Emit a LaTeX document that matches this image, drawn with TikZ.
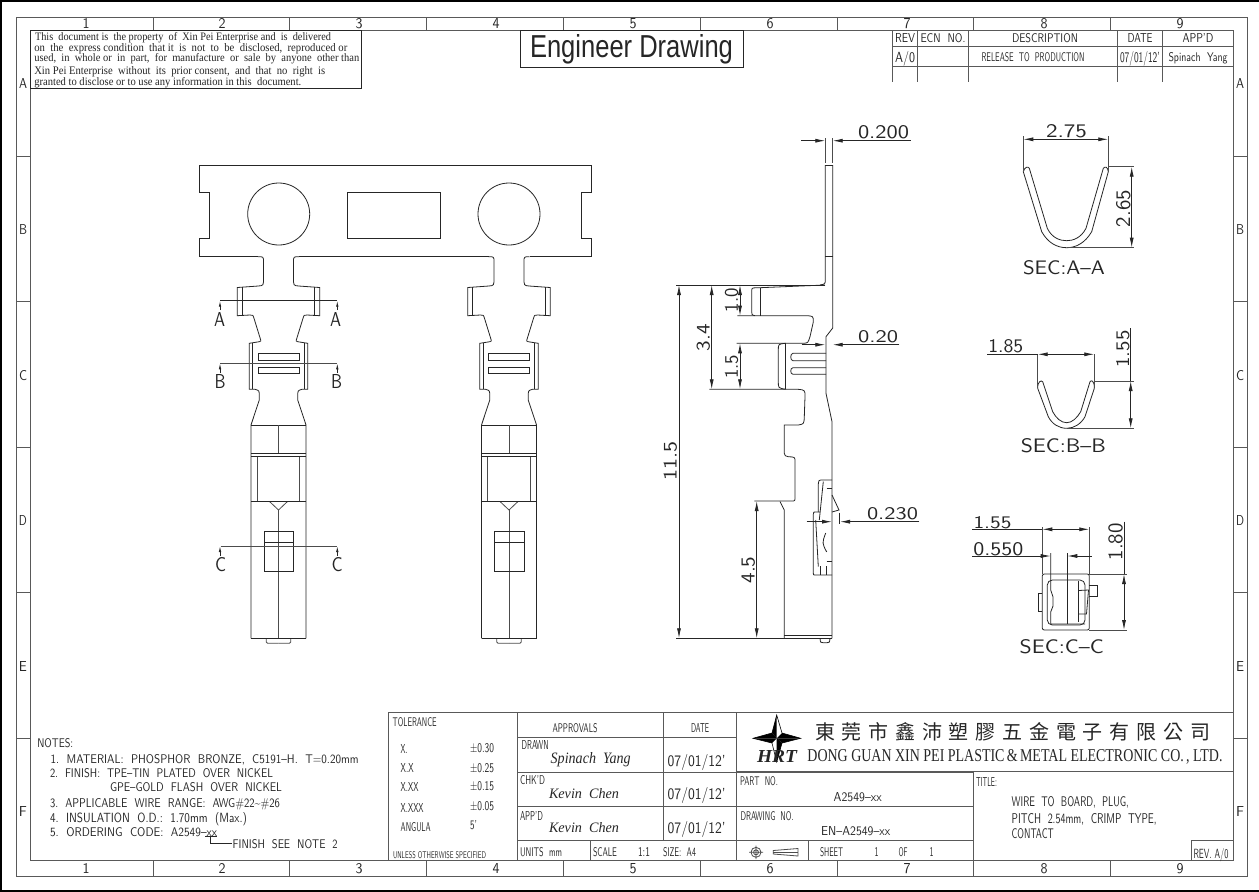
\documentclass[tikz,border=0pt]{standalone}
\usepackage{fontspec}
\usepackage{graphicx}
\usetikzlibrary{arrows.meta}
\newfontfamily\serifF{Liberation Serif}
\newfontfamily\cjk{Noto Sans CJK TC}
\newcounter{tn}
\newcommand\tx[6]{\stepcounter{tn}\node[txt,anchor=#1] (t\arabic{tn}) at ({#2},{#3+#5/2}) {\resizebox{#4pt}{#5pt}{#6}};}
\newcommand\rtx[5]{\stepcounter{tn}\node[txt,anchor=center,rotate=90] (t\arabic{tn}) at ({#1},{#2}) {\resizebox{#3pt}{#4pt}{#5}};}
\tikzset{
 txt/.style={inner sep=0pt,outer sep=0pt,text=black!85,font=\sffamily},
 ol/.style={draw=black!85,line width=0.8pt},
 thn/.style={draw=black!70,line width=0.8pt},
 tb/.style={draw=black!65,line width=1pt},
 diml/.style={draw=black!85,line width=0.8pt},
 dimb/.style={diml,{Latex[length=10pt,width=4pt]}-{Latex[length=10pt,width=4pt]}},
 dimr/.style={diml,-{Latex[length=10pt,width=4pt]}},
 secar/.style={diml,-{Latex[length=6pt,width=2.5pt]}},
}
\newcommand\halfpc{%
 \draw[ol] (-20.5,256.7) .. controls (-15,256.7) .. (-15,262) -- (-15,278) .. controls (-15,285.5) .. (-20,286) -- (-41.2,287.5) -- (-41.2,315.7) -- (-28.5,315) .. controls (-25.5,315) .. (-24.5,318.3) -- (-17.8,340) .. controls (-17.5,341) .. (-19.2,341.7) -- (-29.2,343.3) -- (-29.2,389.3) -- (-23.5,389.3) .. controls (-19.2,390.5) .. (-19.2,396.7) -- (-19.2,400) -- (-27.5,425) -- (-27.5,638.3);
 \draw[ol] (-36.2,287.2) -- (-36.2,315.4);
 \draw[ol] (-25.8,343) -- (-25.8,389.3);
 \draw[thn] (-21.2,456) -- (-21.2,501.3);
 \draw[thn] (-9.2,501.3) -- (0,510);
 \draw[thn] (-12.2,638.3) -- (-12.2,642) -- (-11,643.3) -- (0,643.3);
}
\newcommand\contactpc[1]{%
 \begin{scope}[shift={(#1,0)}]
  \halfpc
  \begin{scope}[xscale=-1]\halfpc\end{scope}
  \draw[ol] (-20.5,353.3) rectangle (20.5,360);
  \draw[ol] (-20.5,367.3) rectangle (20.5,373.7);
  \draw[ol] (-27.5,425) -- (27.5,425);
  \draw[thn] (0,425) -- (0,453.3);
  \draw[ol] (-27.5,453.3) -- (27.5,453.3);
  \draw[ol] (-27.5,456) -- (27.5,456);
  \draw[ol] (-27.5,501.3) -- (27.5,501.3);
  \draw[thn] (0,510) -- (0,638.3);
  \draw[ol] (-14.2,531.7) rectangle (15.2,571.3);
  \draw[ol] (-14.2,542.7) -- (15.2,542.7);
  \draw[ol] (-27.5,638.3) -- (27.5,638.3);
 \end{scope}}
\begin{document}
\begin{tikzpicture}[x=1pt,y=-1pt]
\useasboundingbox (0,0) rectangle (1259,892);
\fill[white] (0,0) rectangle (1259,892);
% sheet edge
\fill[black] (0,0) rectangle (1259,2);
\fill[black] (0,0) rectangle (2,892);
\fill[black] (0,890) rectangle (1259,892);
% frame
\draw[tb] (16,17.5) rectangle (1247,876);
\draw[tb] (30,30) rectangle (1233,860);
\foreach \i in {153,289.5,426.5,563,700,837,973,1110}{
 \draw[tb] (\i,17.5) -- (\i,30);
 \draw[tb] (\i,860) -- (\i,876);
}
\foreach \i in {156,301.5,447,592.5,738}{
 \draw[tb] (16,\i) -- (30,\i);
 \draw[tb] (1233,\i) -- (1247,\i);
}
\foreach \x/\l in {86/1,222/2,359/3,496/4,633/5,770/6,907/7,1044/8,1180/9}{
 \tx{base}{\x}{23.5}{7}{10}{\l}
 \tx{base}{\x}{868}{7}{10}{\l}
}
\foreach \y/\l in {83.5/A,229/B,375/C,520/D,666/E,811/F}{
 \tx{base}{23}{\y}{8}{10}{\l}
 \tx{base}{1240}{\y}{8}{10}{\l}
}
% disclaimer
\draw[ol] (30,30) rectangle (361,88);
\tx{base west}{35}{36}{296}{8}{\serifF This\ \ document is\ \ the property\ \ of\ \ Xin Pei Enterprise and\ \ is\ \ delivered}
\tx{base west}{34.3}{47.7}{313}{8}{\serifF on\ \ the\ \ express condition\ \ that it\ \ is\ \ not\ \ to\ \ be\ \ disclosed,\ \ reproduced or}
\tx{base west}{34.3}{57.7}{325}{8}{\serifF used,\ \ in\ \ whole or\ \ in\ \ part,\ \ for\ \ manufacture\ \ or\ \ sale\ \ by\ \ anyone\ \ other than}
\tx{base west}{34.3}{70}{291}{8}{\serifF Xin Pei Enterprise\ \ without\ \ its\ \ prior consent,\ \ and\ \ that\ \ no\ \ right\ \ is}
\tx{base west}{34.3}{81}{267}{8}{\serifF granted to disclose or to use any information in this\ \ document.}
% heading
\draw[ol] (520,30) rectangle (743,67);
\tx{base}{631.5}{46}{203}{23}{\fontspec{Liberation Sans}Engineer Drawing}
% revision table
\draw[tb] (892.5,30) -- (892.5,82) (917,30) -- (917,82) (968,30) -- (968,82) (1117,30) -- (1117,82) (1162.5,30) -- (1162.5,82);
\draw[tb] (892.5,46) -- (1233,46) (892.5,66.5) -- (1233,66.5);
\tx{base}{905}{38}{20}{9}{REV}
\tx{base}{943}{38}{45}{9}{ECN\ \ NO.}
\tx{base}{1045}{38}{66}{9}{DESCRIPTION}
\tx{base}{1140}{38}{25}{9}{DATE}
\tx{base}{1198}{38}{31}{9}{APP'D}
\tx{base}{905}{57}{20}{11}{A/0}
\tx{base}{1033}{57}{103}{9}{RELEASE\ \ TO\ \ PRODUCTION}
\tx{base}{1140}{57}{40}{11}{07/01/12'}
\tx{base}{1198}{57}{59}{9}{Spinach\ \ Yang}
% carrier
\draw[ol] (258,256.7) -- (199.3,256.7) -- (199.3,238.7) -- (209.3,238.7) -- (209.3,192.7) -- (199.3,192.7) -- (199.3,165) -- (591,165) -- (591,192.7) -- (581,192.7) -- (581,238.7) -- (591,238.7) -- (591,256.7) -- (529.5,256.7);
\draw[ol] (299,256.7) -- (488.5,256.7);
\draw[ol] (278.7,214) circle (31);
\draw[ol] (509,214) circle (31);
\draw[ol] (347.7,192.7) rectangle (440,238);
\contactpc{278.5}
\contactpc{509}
% section marks
\draw[diml,line width=1pt] (220,300.7) -- (337.3,300.7);
\draw[thn] (220,363.3) -- (337.3,363.3);
\draw[thn] (220.7,546) -- (337.3,546);
\foreach \x in {220,337.3}{
 \draw[secar] (\x,310) -- (\x,300.7);
 \draw[secar] (\x,373) -- (\x,363.3);
 \draw[secar] (\x,556) -- (\x,546);
}
\tx{base}{219.7}{319}{11}{14}{A}
\tx{base}{335.7}{319}{11}{14}{A}
\tx{base}{220}{381.7}{11}{14}{B}
\tx{base}{336.5}{381.7}{11}{14}{B}
\tx{base}{220.7}{564}{11}{14}{C}
\tx{base}{337}{564}{11}{14}{C}
% side view outline
\draw[ol] (825.3,165) -- (832.7,165);
\draw[ol] (825.3,256.7) -- (832.7,256.7);
\draw[ol] (825.3,165) -- (825.3,279) .. controls (825.3,284) .. (820,285);
\draw[ol] (832.7,165) -- (832.7,328) -- (826,336.7) -- (826,393.3) -- (832,421.7) -- (832,638.3);
\draw[ol] (760,287.7) -- (825,285);
\draw[ol] (760,287.7) -- (756,287.7) .. controls (751.7,288) .. (751.7,292) -- (751.7,309) .. controls (751.7,315) .. (755,315.7);
\draw[ol] (760,287.7) -- (760,315.7);
\draw[ol] (737.3,315.7) -- (806,315.7) .. controls (813.3,316) .. (813.3,322) -- (810,336.7) .. controls (808,343) .. (803.3,343.3) -- (736.7,343.3);
\draw[ol] (785.7,343.3) -- (785.7,389.3);
\draw[ol] (785.7,343.3) .. controls (778.3,344) .. (778.3,350) -- (778.3,382) .. controls (778.3,388) .. (785.7,389.3);
\draw[ol] (709.3,389.3) -- (798,389.3) .. controls (805,390) .. (805,396.7) -- (804.3,416.7) .. controls (804,424) .. (798.3,425) -- (784.3,425) -- (784.3,453.3) .. controls (785,456) .. (788.3,456.7) .. controls (795,457) .. (795,462) -- (795,496.7) .. controls (795,501) .. (791.7,501) -- (754.3,501);
\draw[ol] (780,501.5) -- (784.3,510) -- (784.3,638.3);
\draw[ol] (784.3,635) -- (832,635);
\draw[dimr,-] (676,285) -- (825,285);
\draw[dimr,-] (676,638.3) -- (832,638.3);
\draw[ol] (820,638.3) .. controls (820.5,642.7) .. (823,642.7) -- (827,642.7) .. controls (829.5,642.7) .. (830,638.3);
\draw[ol] (826,353.3) -- (793,353.3) .. controls (790,353.3) and (790,360.7) .. (793,360.7) -- (826,360.7);
\draw[ol] (826,367.7) -- (793,367.7) .. controls (790,367.7) and (790,374.3) .. (793,374.3) -- (826,374.3);
% clip detail
\draw[ol] (832,480) -- (821,480) .. controls (819,480) .. (818.3,484) -- (818.3,512);
\draw[ol] (823.3,481.5) -- (819.3,520);
\draw[ol] (813.5,514) .. controls (813.5,512) .. (815,512) -- (820,512);
\draw[ol] (813.3,514) -- (813.3,573) .. controls (813.3,575) .. (815,575) -- (832,575);
\draw[ol] (815.7,520) -- (818.3,566.7);
\draw[ol] (820,566) -- (820,575) (826,566) -- (826,575);
\draw[ol] (825.7,533) .. controls (822,543) .. (826.7,552);
\draw[ol] (826.7,488) -- (832,488) (826.7,561) -- (832,561);
\draw[ol] (832,495) -- (839,510) -- (832,512);
\draw[ol] (839,512.7) -- (839,524);
% side dims
\draw[thn] (825.3,138) -- (825.3,163) (832.7,138) -- (832.7,163);
\draw[dimr] (801,140.7) -- (825.3,140.7);
\draw[dimr] (910.7,140.7) -- (832.7,140.7);
\tx{base}{883.5}{131.7}{51}{13}{0.200}
\draw[dimr] (801.7,344.7) -- (825.3,344.7);
\draw[dimr] (899.3,344.7) -- (832.7,344.7);
\tx{base}{878}{336.7}{40}{12}{0.20}
\draw[dimb] (679,285) -- (679,638.3);
\rtx{670.3}{461}{39}{13}{11.5}
\draw[dimb] (711.7,285) -- (711.7,389.3);
\rtx{703.3}{337.7}{27}{13}{3.4}
\draw[dimb] (740,285) -- (740,315.7);
\rtx{731.7}{300}{24}{13}{1.0}
\draw[dimb] (740,343.3) -- (740,389.3);
\rtx{731.7}{366.7}{24}{13}{1.5}
\draw[dimb] (756.7,501) -- (756.7,638.3);
\rtx{748.3}{570}{27}{13}{4.5}
\draw[dimr] (806.7,521.7) -- (832,521.7);
\draw[dimr] (919.3,521.7) -- (840,521.7);
\tx{base}{892.5}{513}{51}{12}{0.230}
% SEC A-A
\draw[ol] (1023.3,171.7) .. controls (1024.5,167) and (1028,166) .. (1029.3,168.3) -- (1047.3,228.3) .. controls (1052,238) and (1060,240.7) .. (1066.7,240.7) .. controls (1073,240.7) and (1081,238) .. (1086,228.3) -- (1103.3,168.3) .. controls (1105,166) and (1108,167) .. (1108.3,171.7) -- (1091.7,231.7) .. controls (1085,243) and (1076,247.7) .. (1066.7,247.7) .. controls (1057,247.7) and (1048,243) .. (1041.7,231.7) -- cycle;
\draw[thn] (1023.3,136) -- (1023.3,171.7) (1108.3,136) -- (1108.3,171.7);
\draw[dimb] (1023.3,139.3) -- (1108.3,139.3);
\tx{base}{1066.5}{130.7}{41}{13}{2.75}
\draw[thn] (1108,166.7) -- (1134,166.7) (1066.7,247.7) -- (1134,247.7);
\draw[dimb] (1131.7,166.7) -- (1131.7,247.7);
\rtx{1123.3}{208.5}{37}{14}{2.65}
\tx{base}{1064}{267.7}{82}{14}{SEC:A--A}
% SEC B-B
\draw[ol] (1037.7,388.3) .. controls (1037.5,381) and (1041.5,380) .. (1042.7,381.7) -- (1052.7,411.7) .. controls (1056,418) and (1061,422.7) .. (1066.7,422.7) .. controls (1072,422.7) and (1077,418) .. (1080.7,411.7) -- (1090,381.7) .. controls (1091,380) and (1094.5,380) .. (1094.3,388.3) -- (1085,416.7) .. controls (1081,424) and (1074,428.3) .. (1066.7,428.3) .. controls (1059,428.3) and (1052,424) .. (1048.3,416.7) -- cycle;
\draw[thn] (1037.7,354.3) -- (1037.7,388.3) (1094.3,354.3) -- (1094.3,388.3);
\draw[dimr,-] (987.3,354.3) -- (1037.7,354.3);
\draw[dimb] (1037.7,354.3) -- (1094.3,354.3);
\tx{base}{1005.8}{346.3}{35}{13}{1.85}
\draw[thn] (1094,381) -- (1134,381) (1066.7,428.3) -- (1134,428.3);
\draw[dimb] (1130.7,381) -- (1130.7,428.3);
\draw[dimr,-] (1130.7,328.3) -- (1130.7,381);
\rtx{1122.7}{349}{37}{13}{1.55}
\tx{base}{1063.3}{445}{85}{14}{SEC:B--B}
% SEC C-C
\draw[ol,rounded corners=2pt] (1042.3,574) rectangle (1089.3,630);
\draw[ol,rounded corners=5pt] (1047.3,580) rectangle (1085,625);
\draw[ol] (1042.3,593.3) -- (1038.3,593.3) -- (1038.3,611) -- (1042.3,611);
\draw[ol] (1089.3,585) -- (1097.3,585) -- (1097.3,596) -- (1089.3,596);
\draw[ol] (1050.7,553) -- (1050.7,590) -- (1053,597) -- (1053,606) -- (1050.7,612) -- (1050.7,624) -- (1085,624);
\draw[ol] (1067.3,553) -- (1067.3,624);
\draw[ol] (1078.3,581) -- (1078.3,622);
\draw[ol] (1078.3,590.5) -- (1088.5,590) -- (1086.5,614) -- (1078.3,614);
\draw[thn] (1042.3,527) -- (1042.3,574) (1089.3,527) -- (1089.3,574);
\draw[dimr,-] (972.3,529.3) -- (1042.3,529.3);
\draw[dimb] (1042.3,529.3) -- (1089.3,529.3);
\tx{base}{992.5}{522}{38}{12}{1.55}
\draw[dimr] (972.3,556) -- (1050.7,556);
\draw[dimr] (1091.7,556) -- (1067.3,556);
\tx{base}{998.3}{548.5}{50}{13}{0.550}
\draw[thn] (1089,574) -- (1126.7,574) (1089,630) -- (1126.7,630);
\draw[dimb] (1124,574) -- (1124,630);
\draw[dimr,-] (1124,521.7) -- (1124,574);
\rtx{1115.7}{541.7}{37}{14}{1.80}
\tx{base}{1061.7}{646}{84}{14}{SEC:C--C}
% notes
\tx{base west}{37.3}{743.3}{36}{9}{NOTES:}
\tx{base west}{50.7}{759}{308}{9}{1.\ \ MATERIAL:\ \ PHOSPHOR\ \ BRONZE,\ \ C5191--H.\ \ T=0.20mm}
\tx{base west}{50}{773.3}{223}{9}{2.\ \ FINISH:\ \ TPE--TIN\ \ PLATED\ \ OVER\ \ NICKEL}
\tx{base west}{110}{787.3}{172}{9}{GPE--GOLD\ \ FLASH\ \ OVER\ \ NICKEL}
\tx{base west}{50}{803.3}{230}{9}{3.\ \ APPLICABLE\ \ WIRE\ \ RANGE:\ \ AWG\#22\textasciitilde\#26}
\tx{base west}{50}{817.3}{197}{10}{4.\ \ INSULATION\ \ O.D.:\ \ 1.70mm\ \ (Max.)}
\tx{base west}{50}{831.7}{167}{9}{5.\ \ ORDERING\ \ CODE:\ \ A2549--xx}
\tx{base west}{232.7}{844.3}{105}{9}{FINISH\ \ SEE\ \ NOTE\ \ 2}
\draw[diml] (205,836) -- (216.7,836);
\draw[diml] (210.7,836) -- (210.7,843.7) -- (231.7,843.7);
% title block
\draw[tb] (388.3,712.3) -- (1233,712.3) (388.3,712.3) -- (388.3,860);
\draw[tb] (517.3,712.3) -- (517.3,860) (663.3,712.3) -- (663.3,840.7) (736,712.3) -- (736,860);
\draw[tb] (517.3,737.7) -- (736,737.7) (517.3,772.7) -- (973.3,772.7) (517.3,806.7) -- (973.3,806.7) (517.3,840.7) -- (973.3,840.7);
\draw[tb] (736,771.7) -- (1233,771.7);
\draw[tb] (590,840.7) -- (590,860) (808.3,840.7) -- (808.3,860) (973.3,771.7) -- (973.3,860);
\draw[tb] (1191.7,860) -- (1191.7,840.7) -- (1233,840.7);
\tx{base west}{392.7}{722.3}{44}{9}{TOLERANCE}
\tx{base west}{400.7}{749}{7}{9}{X.}
\tx{base west}{400.7}{768}{13}{9}{X.X}
\tx{base west}{400.7}{787}{18}{9}{X.XX}
\tx{base west}{400.7}{807.7}{23}{9}{X.XXX}
\tx{base west}{400.7}{826.7}{30}{9}{ANGULA}
\tx{base west}{470}{748}{24}{9}{±0.30}
\tx{base west}{470}{768}{24}{9}{±0.25}
\tx{base west}{470}{786}{24}{9}{±0.15}
\tx{base west}{470}{806}{24}{9}{±0.05}
\tx{base west}{470}{825}{7}{9}{5'}
\tx{base west}{393}{855}{93}{7}{UNLESS OTHERWISE SPECIFIED}
\tx{base}{575}{728.3}{45}{9}{APPROVALS}
\tx{base}{700}{728.3}{18}{9}{DATE}
\tx{base west}{521.7}{745}{27}{9}{DRAWN}
\tx{base west}{520}{780}{25}{9}{CHK'D}
\tx{base west}{520}{815.7}{23}{9}{APP'D}
\tx{base}{590.7}{758}{80}{11}{\serifF\itshape Spinach\ \ Yang}
\tx{base}{584}{793.3}{70}{10}{\serifF\itshape Kevin\ \ Chen}
\tx{base}{584}{827.7}{70}{10}{\serifF\itshape Kevin\ \ Chen}
\tx{base}{696.7}{760}{58}{12}{07/01/12'}
\tx{base}{696.7}{793}{58}{12}{07/01/12'}
\tx{base}{696.7}{827.7}{58}{12}{07/01/12'}
\tx{base west}{520}{851.7}{42}{9}{UNITS\ \ mm}
\tx{base west}{593}{851.7}{24}{9}{SCALE}
\tx{base west}{638}{851.7}{12}{9}{1:1}
\tx{base west}{663}{851.7}{33}{9}{SIZE:\ \ A4}
\draw[thn] (756,852.3) circle (5) (756,852.3) circle (2.5) (749,852.3) -- (763,852.3) (756,845.5) -- (756,859);
\draw[thn] (773.3,850.5) -- (798,848.5) -- (798,856) -- (773.3,854) -- cycle;
\draw[thn] (773.3,852.3) -- (798,852.3);
\tx{base west}{820}{852.3}{23}{9}{SHEET}
\tx{base}{876.7}{852.3}{4}{9}{1}
\tx{base}{903}{852.3}{9}{9}{OF}
\tx{base}{931.7}{852.3}{4}{9}{1}
\tx{base west}{740}{781}{38}{9}{PART\ \ NO.}
\tx{base}{857.7}{797.3}{48}{9}{A2549--xx}
\tx{base west}{740.7}{815.7}{53}{9}{DRAWING\ \ NO.}
\tx{base}{855.7}{830.7}{69}{9}{EN--A2549--xx}
\tx{base west}{976}{782}{21}{9}{TITLE:}
\tx{base west}{1011.7}{801.7}{117}{10}{WIRE\ \ TO\ \ BOARD,\ \ PLUG,}
\tx{base west}{1011.7}{818.3}{145}{10}{PITCH\ \ 2.54mm,\ \ CRIMP\ \ TYPE,}
\tx{base west}{1011.7}{833.3}{42}{10}{CONTACT}
\tx{base}{1211}{853}{35}{10}{REV.\ A/0}
% logo
\fill[black] (776.7,715) -- (772,733) -- (776.7,738.3) -- cycle;
\fill[black] (800.7,738.3) -- (782,733) -- (776.7,738.3) -- cycle;
\fill[black] (776.7,762) -- (782,743) -- (776.7,738.3) -- cycle;
\fill[black] (753,738.3) -- (772,743) -- (776.7,738.3) -- cycle;
\fill[black] (753,738.3) -- (772,733) -- (776.7,738.3) -- cycle;
\fill[black] (800.7,738.3) -- (782,743) -- (776.7,738.3) -- cycle;
\draw[black,line width=0.6pt] (776.7,715) -- (782,733) -- (800.7,738.3) -- (782,743) -- (776.7,762) -- (772,743) -- (753,738.3) -- (772,733) -- cycle;
\tx{base}{777}{756.5}{40}{12}{\serifF\bfseries\itshape HRT}
\stepcounter{tn}\node[txt,anchor=center] (t\arabic{tn}) at (1012.5,732.3) {\cjk\fontsize{20}{20}\selectfont\makebox[395pt][s]{東\hfil 莞\hfil 市\hfil 鑫\hfil 沛\hfil 塑\hfil 膠\hfil 五\hfil 金\hfil 電\hfil 子\hfil 有\hfil 限\hfil 公\hfil 司}};
\tx{base}{1015}{755.5}{415}{12}{\serifF DONG\ GUAN\ XIN\ PEI\ PLASTIC\,\&\,METAL\ ELECTRONIC\ CO.\,,\ LTD.}
\end{tikzpicture}
\end{document}
